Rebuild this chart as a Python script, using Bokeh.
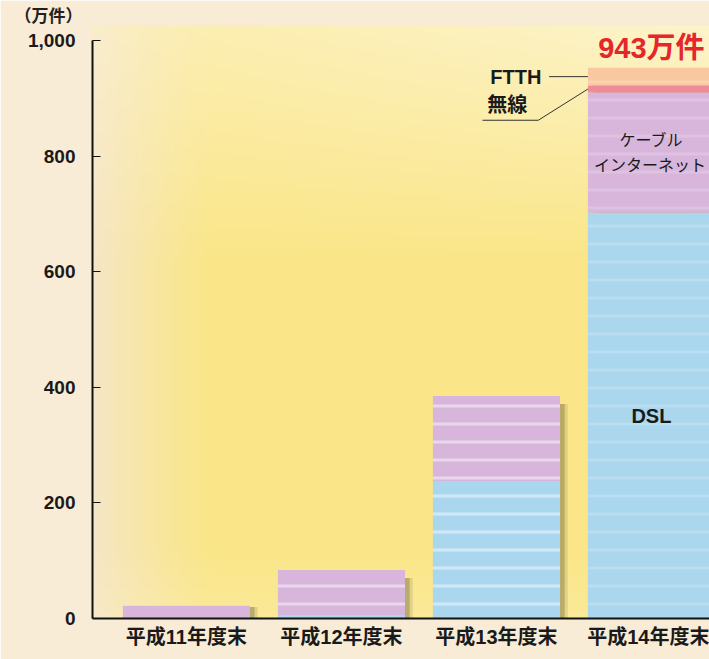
import numpy as np
from bokeh.plotting import figure
from bokeh.models import Range1d, FixedTicker, NumeralTickFormatter, ColumnDataSource, Label
from bokeh.embed import file_html
from bokeh.resources import INLINE

# ---------------- data ----------------
categories = ["平成11年度末", "平成12年度末", "平成13年度末", "平成14年度末"]
dsl = [0, 6, 238, 702]
cable = [22, 78, 147, 208]
wireless = [0, 0, 0, 12]
ftth = [0, 0, 0, 31]
series_keys = ["dsl", "cable", "wireless", "ftth"]
series_labels = ["DSL", "ケーブル\nインターネット", "無線", "FTTH"]
y_ticks = [0, 200, 400, 600, 800, 1000]
unit_label = "（万件）"
total_label = "943万件"

colors = ["#ABD7EE", "#D8B6DB", "#EE8B9B", "#F8C9A0"]

JP = "Liberation Sans, Noto Sans CJK JP"

xs = list(range(len(categories)))
totals = [a + b + c + d for a, b, c, d in zip(dsl, cable, wireless, ftth)]
source = ColumnDataSource(dict(x=xs, dsl=dsl, cable=cable, wireless=wireless, ftth=ftth,
                               total=totals, ha=[0.45, 0.45, 0.45, 0.16]))

W, H = 709, 659
left_b, right_b, top_b, bottom_b = 92, 0, 25, 41
step_px = 155.0
x_start = -0.606
x_end = x_start + (W - left_b - right_b) / step_px
bar_w = 0.82
y_max = 1000
y_end = y_max + 15 / 0.578
y0, y1 = 0, y_end

p = figure(width=W, height=H, output_backend="svg", toolbar_location=None,
           x_range=Range1d(x_start, x_end), y_range=Range1d(y0, y1),
           min_border_left=left_b, min_border_right=right_b,
           min_border_top=top_b, min_border_bottom=bottom_b)
p.outline_line_color = None
p.grid.visible = False
p.border_fill_color = "#F8ECD6"
p.background_fill_color = "#FAE78C"

# unit label as title
p.title.text = unit_label
p.title.align = "left"
p.title.offset = -78
p.title.standoff = 0
p.title.text_font = JP
p.title.text_font_size = "17px"
p.title.text_font_style = "bold"
p.title.text_color = "#222222"

# soft background gradient inside the frame
nx, ny = 160, 160
u = np.linspace(0, 1, nx)[None, :]
v = np.linspace(0, 1, ny)[:, None]
base = np.array([250, 230, 136], float)
beige = np.array([245, 230, 208], float)
cream = np.array([254, 246, 214], float)
wl = (np.clip(1 - u / 0.2, 0, 1) ** 1.3) * 0.85 + 0 * v
wt = np.clip((v - 0.6) / 0.4, 0, 1) * (0.45 + 0.4 * u)
wb = np.clip(1 - v / 0.12, 0, 1) * 0.2 + 0 * u
col = base[None, None, :] * np.ones((ny, nx, 1))
col = col * (1 - wl[..., None]) + beige * wl[..., None]
col = col * (1 - wt[..., None]) + cream * wt[..., None]
col = col * (1 - wb[..., None]) + cream * wb[..., None]
img = np.empty((ny, nx), dtype=np.uint32)
view = img.view(dtype=np.uint8).reshape((ny, nx, 4))
view[..., :3] = col.astype(np.uint8)
view[..., 3] = 255
bg = p.image_rgba(image=[img], x=x_start, y=y0, dw=x_end - x_start, dh=y1 - y0)
bg.level = "underlay"

# bar shadows
shadow_top = [t - 14 if t > 30 else t - 2 for t in totals]
p.vbar(x=[x + 0.05 for x in xs], top=shadow_top, bottom=0, width=bar_w,
       fill_color="#8C8350", fill_alpha=0.22, line_color=None)
p.vbar(x=[x + 0.03 for x in xs], top=shadow_top, bottom=0, width=bar_w,
       fill_color="#6E6740", fill_alpha=0.35, line_color=None)

# stacked bars
p.vbar_stack(series_keys, x="x", width=bar_w, source=source,
             fill_color=colors, line_color=None,
             hatch_pattern="horizontal_line", hatch_color="white",
             hatch_alpha="ha", hatch_scale=18, hatch_weight=3)

# axes
p.xaxis.ticker = FixedTicker(ticks=xs)
p.xaxis.major_label_overrides = {i: c for i, c in zip(xs, categories)}
p.xaxis.major_tick_in = 0
p.xaxis.major_tick_out = 0
p.xaxis.minor_tick_line_color = None
p.xaxis.axis_line_width = 2
p.xaxis.axis_line_color = "#111111"
p.xaxis.major_label_text_font = JP
p.xaxis.major_label_text_font_size = "20px"
p.xaxis.major_label_text_font_style = "bold"
p.xaxis.major_label_text_color = "#1a1a1a"
p.xaxis.major_label_standoff = 7

p.yaxis.ticker = FixedTicker(ticks=y_ticks)
p.yaxis.bounds = (0, y_max)
p.yaxis.formatter = NumeralTickFormatter(format="0,0")
p.yaxis.major_tick_in = 8
p.yaxis.major_tick_out = 0
p.yaxis.major_tick_line_color = "#111111"
p.yaxis.minor_tick_line_color = None
p.yaxis.axis_line_width = 2
p.yaxis.axis_line_color = "#111111"
p.yaxis.major_label_text_font = JP
p.yaxis.major_label_text_font_size = "19px"
p.yaxis.major_label_text_font_style = "bold"
p.yaxis.major_label_text_color = "#1a1a1a"
p.yaxis.major_label_standoff = 17

# annotations tied to last bar
i = len(xs) - 1
xc = xs[i]
x_left = xc - bar_w / 2
d, c, w, f = dsl[i], cable[i], wireless[i], ftth[i]

p.add_layout(Label(x=xc, y=totals[i] + 6, text=total_label, text_align="center",
                   text_baseline="bottom", text_font=JP, text_font_size="29px",
                   text_font_style="bold", text_color="#E5262A"))

cable_lines = series_labels[1].split("\n")
ymid_c = d + c / 2
p.add_layout(Label(x=xc, y=ymid_c, y_offset=12, text=cable_lines[0], text_align="center",
                   text_baseline="middle", text_font=JP, text_font_size="16px",
                   text_color="#1a1a1a"))
p.add_layout(Label(x=xc - 0.01, y=ymid_c, y_offset=-13, text=cable_lines[1], text_align="center",
                   text_baseline="middle", text_font=JP, text_font_size="16px",
                   text_color="#1a1a1a"))
p.add_layout(Label(x=xc, y=d / 2, text=series_labels[0], text_align="center",
                   text_baseline="middle", text_font=JP, text_font_size="20px",
                   text_font_style="bold", text_color="#1a1a1a"))

# FTTH leader
y_f = d + c + w + f / 2
p.line([x_left - 0.25, x_left], [y_f, y_f], line_color="#333333", line_width=1)
p.add_layout(Label(x=x_left - 0.3, y=y_f, text=series_labels[3], text_align="right",
                   text_baseline="middle", text_font=JP, text_font_size="20px",
                   text_font_style="bold", text_color="#1a1a1a"))
# wireless leader
y_w = d + c + w / 2
y_ul = y_w - 54
p.line([x_left - 0.68, x_left - 0.32, x_left], [y_ul, y_ul, y_w], line_color="#333333", line_width=1)
p.add_layout(Label(x=x_left - 0.65, y=y_ul, y_offset=4, text=series_labels[2], text_align="left",
                   text_baseline="bottom", text_font=JP, text_font_size="20px",
                   text_font_style="bold", text_color="#1a1a1a"))

open("out.html", "w").write(file_html(p, INLINE))
